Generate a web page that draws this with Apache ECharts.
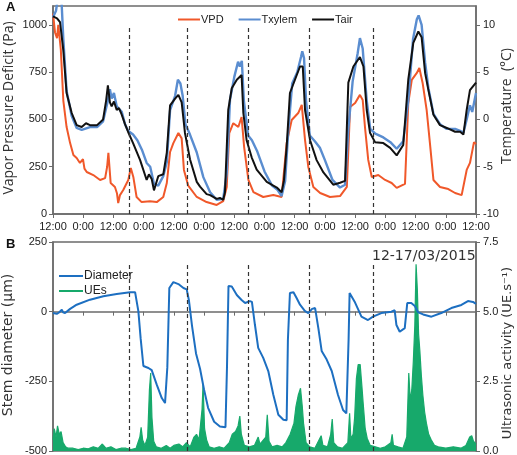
<!DOCTYPE html>
<html>
<head>
<meta charset="utf-8">
<script src="https://cdn.jsdelivr.net/npm/echarts@6/dist/echarts.min.js"></script>
<style>
  html, body { margin: 0; padding: 0; background: #fff; }
  #chart { width: 517px; height: 455px; }
</style>
</head>
<body>
<div id="chart"></div>
<script>
// time axis in hours from the first 12:00 (0..168)
const xLabels = ['12:00', '0:00', '12:00', '0:00', '12:00', '0:00', '12:00', '0:00',
  '12:00', '0:00', '12:00', '0:00', '12:00', '0:00', '12:00'];
const dashedHours = [30.2, 53.2, 77.5, 101.7, 127.1];

// panel A : VPD (Pa)
const vpd = [[0,1060],[0.8,960],[1.6,930],[2.1,1000],[3.1,870],[4.1,600],[5.4,460],[6.8,375],
  [8.1,312],[9.4,296],[10.7,270],[11.9,290],[12.5,240],[13.4,222],[16,206],[18.7,180],[20.7,190],
  [21.5,250],[22,323],[22.9,164],[24.6,143],[25.4,110],[25.9,58],[26.6,100],[27.9,127],[29.9,180],
  [30.9,243],[31.9,196],[33.2,90],[35.2,63],[38.5,68],[41.2,63],[43.8,90],[45.2,164],[46.5,328],
  [47.8,375],[49.8,428],[51.1,400],[52,233],[53.7,150],[57.1,90],[61,63],[65,48],[67.6,68],[69,143],
  [70,428],[71.6,480],[73.6,460],[74.9,513],[75.9,355],[77.6,180],[79.6,116],[83.5,90],[87.5,100],
  [90.8,90],[92.8,375],[94.8,497],[97.4,534],[98.8,577],[100.1,391],[101.4,249],[103.4,143],
  [106.1,111],[110,90],[114,95],[116.7,143],[118,566],[120,587],[121.9,630],[123,603],[123.9,460],
  [125.2,286],[126.6,196],[129.2,206],[131.9,180],[134.5,164],[136.5,138],[139.8,159],[141.1,587],
  [142.5,709],[144.5,746],[145.5,772],[146.8,693],[148.4,550],[149.7,375],[151.1,180],[153.7,143],
  [157,132],[159.7,111],[162.3,100],[163,100],[164.3,233],[165.6,270],[167.2,380],[168,370]];

// panel A : xylem temperature (°C)
const txylem = [[0,10.8],[1.2,11.5],[2,13],[3.3,13],[4.1,8.5],[5.4,3],[7.4,0.4],[9.4,-0.9],
  [11.4,-1.1],[14.7,-0.8],[17.5,-0.8],[19.9,-0.2],[21.8,2],[22.6,3.2],[23.3,2.2],[24.2,2.8],
  [25.3,1.4],[27.3,0.8],[28.6,-0.5],[29.8,-1.2],[31.8,-1.6],[33.5,-2.2],[35.3,-3.2],[37.2,-4.6],
  [38.6,-5],[40.1,-6.8],[41.8,-7],[43.8,-6],[45.2,-4.5],[46.5,1],[48.5,2.5],[49.6,4.2],[50.6,3.8],
  [51.5,2.5],[52.6,-0.5],[54.4,-1.6],[57.1,-3.5],[59.7,-6.1],[62.4,-7.7],[65,-8.5],[67.6,-8.4],
  [69,-5.7],[70.3,2.1],[72,4.5],[73.5,6.1],[74.2,5.6],[75,6.2],[75.8,2],[77.5,-1.7],[79,-2.2],
  [81,-3.3],[84,-5.5],[87,-7],[89,-7.4],[90.8,-8.1],[92.2,-6.5],[93.5,-1],[95,3.8],[97,5],
  [98.5,6.6],[99,7.2],[99.7,6.5],[100.5,2],[102,-1.7],[104,-2.3],[106,-3],[108,-4.3],[111,-6.4],
  [114,-7.2],[116,-6.9],[117.3,-1],[119,4],[121,7],[121.9,8.6],[123,7.5],[124.6,2],[126,-1],
  [128,-1.5],[131.2,-1.9],[134,-2.4],[136.5,-3.1],[139.1,-2.3],[141.1,2],[143,8.5],[144.5,10.6],
  [145.2,11],[146.4,10],[147.8,6],[149.1,3.3],[151.1,0.6],[153.7,-0.5],[156.4,-1],[159.7,-1],
  [161.7,-1.2],[163,-1.4],[164.3,0],[165.6,1.5],[166.5,0.8],[168,2.8]];

// panel A : air temperature (°C)
const tair = [[0,10.9],[1.6,10.7],[2.8,10.3],[4.1,7.3],[5.4,2.8],[7.4,0.7],[9.4,-0.6],[11.4,-0.8],
  [13.1,-0.4],[14.7,-0.6],[17.5,-0.6],[19.9,0],[21.1,2],[21.8,3.6],[22.6,1.8],[23.3,1.4],[24.2,1.9],
  [25.3,1],[26.2,1.2],[27.3,0.5],[28.6,-0.5],[29.8,-1.3],[31.8,-2.5],[34.6,-4.3],[37.2,-6.4],
  [38.1,-5.8],[39.2,-6.3],[40.1,-7.5],[41.8,-6],[43.8,-5.8],[45.2,-3.5],[46.5,1.5],[48.5,2.2],
  [49.8,2.6],[51.1,1.8],[52.4,-1.4],[54.4,-4.2],[57.1,-6.6],[58.4,-7.1],[61,-7.9],[62.4,-8],
  [65,-8.4],[66.3,-8.3],[67.6,-8.5],[68.3,-7.7],[69.6,1],[71,3.3],[73,4.2],[74.9,4.7],[75.6,0.7],
  [76.9,-2.2],[78.9,-4],[80.9,-5.3],[84.9,-6.6],[88.9,-7.2],[90.8,-7.7],[91.7,-6.5],[92.8,-2.9],
  [94.1,2.8],[96.1,4.2],[98.1,5.6],[99.2,5.6],[100.1,1],[102.1,-2.2],[104.7,-4.3],[107.4,-5.6],
  [111.3,-6.9],[114,-6.7],[116,-6.5],[117.3,3.9],[119.3,5.6],[121.9,6.6],[123.3,5.6],[124.6,1],
  [125.9,-1.4],[127.9,-2.4],[131.2,-2.5],[133.9,-3],[136.5,-3.8],[139.1,-2.7],[141.1,4.2],
  [143.1,8.1],[145.1,9.3],[146.4,8.7],[147.8,4.9],[149.1,3.1],[151.1,0.5],[153.7,-0.6],
  [156.4,-0.9],[159.7,-1.3],[161.7,-1.3],[163,-1.6],[164.3,1],[165.6,3.1],[168,3.9]];

// panel B : stem diameter (µm)
const diameter = [[0,-5],[1.5,-8],[2.4,-3],[3.5,7],[4,-2],[4.8,-5],[6.8,10],[9.4,25],[14.7,43],
  [20,55],[25.3,63],[30.6,70],[32.6,70],[33.9,2],[34.8,-95],[35.9,-195],[37.9,-202],[39.2,-210],
  [41.2,-262],[43.2,-310],[44.5,-328],[45.4,-200],[46.2,85],[47.8,106],[49.8,99],[51.8,85],
  [53.1,80],[54,40],[55.2,-50],[56.8,-150],[58.4,-205],[60,-280],[61.6,-345],[64,-395],[66.3,-412],
  [68.5,-415],[69.1,-200],[69.7,92],[71,90],[73,60],[74.9,42],[76.3,31],[78.2,38],[79,35],
  [80.2,-47],[81.5,-130],[83.5,-166],[85.5,-213],[87.5,-298],[89.5,-370],[91.5,-388],[92.8,-390],
  [93.3,-100],[94.1,67],[95.5,70],[96.8,48],[98.1,25],[100,3],[101.4,-5],[102.9,10],[104.1,13],
  [105.4,-60],[106.7,-141],[108.7,-172],[110.7,-213],[113.2,-299],[115.2,-353],[116.5,-365],
  [117.4,-100],[117.8,67],[119.8,36],[122.5,-18],[125.1,-30],[127.1,-18],[130.4,-5],[134.4,0],
  [135.7,5],[136.4,-48],[137.7,-72],[139.7,-59],[140.7,31],[142.3,31],[143.7,20],[145,-2],
  [145.8,-5],[146.2,0],[147,-10],[150.3,-18],[154.2,-5],[158.2,13],[162.2,24],[164.8,38],
  [166.8,35],[168,28]];

// panel B : ultrasonic emissions (UE.s-1)
const ues = [[0,0.4],[0.5,0.8],[1.2,0.5],[1.8,0.9],[2.5,0.6],[3.2,0.7],[4,0.3],[5,0.15],[6,0.1],
  [8,0.1],[10,0.05],[12,0.1],[14,0.08],[16,0.15],[18,0.1],[19.6,0.25],[21,0.1],[23,0.15],[25,0.05],
  [27,0.1],[29,0.1],[31,0.05],[33,0.1],[34.5,0.5],[35,0.85],[35.6,0.4],[36.5,0.2],[37.6,0.5],
  [38.3,2.2],[38.8,2.8],[39.3,1.2],[40,0.35],[41,0.15],[43,0.1],[45,0.2],[46.5,0.1],[48,0.2],
  [50,0.25],[51.5,0.15],[53,0.3],[54.5,0.15],[56,0.5],[57,0.6],[58,0.4],[59.2,1.5],[59.6,2.4],
  [60.2,0.8],[61,0.4],[62,0.15],[64,0.1],[66,0.15],[68,0.1],[70,0.3],[71.2,0.6],[72.5,0.7],
  [73.5,0.9],[74.2,1.25],[74.8,0.6],[76,0.2],[78,0.15],[80,0.2],[81.5,0.5],[82.2,0.25],[84.5,0.5],
  [85.1,1.3],[85.8,0.35],[87,0.15],[89,0.2],[91,0.15],[92.5,0.3],[94.2,0.6],[95.7,1],[96.5,1.6],
  [97.4,2],[98.3,2.25],[99,1.6],[99.5,1],[100.5,0.3],[102,0.15],[104,0.1],[106.5,0.55],[107.2,0.2],
  [109,0.15],[110.3,0.6],[110.9,1.15],[111.5,0.3],[113,0.15],[115,0.1],[117.1,0.3],[117.8,1.35],
  [118.3,0.45],[119.2,0.6],[119.8,1.2],[120.5,2.6],[121.2,3.1],[122,3.1],[122.7,2.3],[123.2,1.7],
  [124,0.8],[124.8,0.45],[126,0.2],[128,0.15],[130,0.1],[132,0.15],[134.2,0.3],[134.7,0.6],
  [135.2,0.2],[137,0.15],[139,0.1],[140.5,0.5],[141.3,2.8],[141.9,1.8],[142.5,2.2],[143.1,3.2],
  [143.7,4.5],[144.2,6.7],[144.7,5.8],[145.2,4.2],[145.7,3.6],[146.3,2.7],[146.9,2],[147.6,1.4],
  [148.3,1],[149.2,0.6],[150.2,0.4],[151.5,0.2],[153,0.15],[156,0.1],[159,0.15],[162,0.1],
  [164,0.2],[165.5,0.5],[166.3,0.55],[167,0.35],[168,0.25]];

const axisColor = '#6b6b6b';
const tickFont = { color: '#222', fontSize: 11, fontFamily: 'Liberation Sans' };

function dashLines(yFrom, yTo) {
  return {
    silent: true,
    symbol: ['none', 'none'],
    label: { show: false },
    lineStyle: { color: '#333', width: 1.2, type: [4, 3] },
    data: dashedHours.map(h => [{ coord: [h, yFrom] }, { coord: [h, yTo] }])
  };
}

function xAxisCfg(grid, showLabels) {
  return {
    type: 'value', gridIndex: grid, min: 0, max: 168, interval: 12,
    axisLine: { lineStyle: { color: axisColor, width: 1.5 } },
    axisTick: { show: true, length: 4, lineStyle: { color: axisColor } },
    axisLabel: {
      show: showLabels, margin: 7, ...tickFont,
      formatter: v => xLabels[Math.round(v / 12)]
    },
    splitLine: { show: false }
  };
}

function yAxisCfg(grid, pos, min, max, interval, labelOpts) {
  return {
    type: 'value', gridIndex: grid, min: min, max: max, interval: interval, position: pos,
    axisLine: { show: true, lineStyle: { color: axisColor, width: 1.5 } },
    axisTick: { show: true, length: 4, lineStyle: { color: axisColor } },
    axisLabel: { margin: pos === 'left' ? 6 : 7, ...tickFont, formatter: v => String(v), ...labelOpts },
    splitLine: { show: false }
  };
}

// rotated axis titles (read bottom to top)
function axisTitle(text, x, y, size, family) {
  return {
    type: 'text', x: x, y: y, rotation: Math.PI / 2,
    style: { text: text, fill: '#333', font: size + 'px "' + family + '"', align: 'center', verticalAlign: 'middle' }
  };
}

const chart = echarts.init(document.getElementById('chart'));

const option = {
  animation: false,
  backgroundColor: '#fff',
  grid: [
    { left: 53, right: 41, top: 6, height: 208, outerBoundsMode: 'none', containLabel: false,
      show: true, borderColor: axisColor, borderWidth: 1.5 },
    { left: 53, right: 41, top: 242, height: 209, outerBoundsMode: 'none', containLabel: false,
      show: true, borderColor: axisColor, borderWidth: 1.5 }
  ],
  title: [
    { text: 'A', left: 1, top: -4, textStyle: { fontSize: 13, fontWeight: 'bold', color: '#111', fontFamily: 'Liberation Sans' } },
    { text: 'B', left: 1, top: 233, textStyle: { fontSize: 13, fontWeight: 'bold', color: '#111', fontFamily: 'Liberation Sans' } },
    { text: '12-17/03/2015', left: 367, top: 244, textStyle: { fontSize: 14, fontWeight: 'normal', color: '#333', fontFamily: 'DejaVu Sans' } }
  ],
  graphic: [
    axisTitle('Vapor Pressure Deficit (Pa)', 9, 108, 14, 'Open Sans'),
    axisTitle('Temperature  (°C)', 507, 106, 14, 'Open Sans'),
    axisTitle('Stem diameter (µm)', 8, 345, 14, 'DejaVu Sans'),
    axisTitle('Ultrasonic activity (UE.s⁻¹)', 508, 353, 13, 'DejaVu Sans')
  ],
  legend: [
    {
      data: ['VPD', 'Txylem', 'Tair'],
      left: 173, top: 9, itemGap: 15,
      icon: 'rect', itemWidth: 22, itemHeight: 2,
      textStyle: { fontSize: 11, color: '#222', fontFamily: 'Liberation Sans', padding: [0, 0, 0, -4] }
    },
    {
      data: ['Diameter', 'UEs'],
      left: 54, top: 265, orient: 'vertical', itemGap: 3,
      icon: 'rect', itemWidth: 24, itemHeight: 2,
      textStyle: { fontSize: 12, color: '#222', fontFamily: 'Liberation Sans', padding: [0, 0, 0, -4] }
    }
  ],
  xAxis: [xAxisCfg(0, true), xAxisCfg(1, false)],
  yAxis: [
    yAxisCfg(0, 'left', 0, 1100, 250, { showMaxLabel: false }),
    yAxisCfg(0, 'right', -10, 12, 5, { showMaxLabel: false }),
    yAxisCfg(1, 'left', -500, 250, 250, {}),
    yAxisCfg(1, 'right', 0, 7.5, 2.5, { formatter: v => v.toFixed(1) })
  ],
  series: [
    {
      name: 'VPD', type: 'line', xAxisIndex: 0, yAxisIndex: 0, data: vpd,
      symbol: 'none', lineStyle: { color: '#f0582a', width: 2 }, itemStyle: { color: '#f0582a' },
      markLine: dashLines(0, 1000)
    },
    {
      name: 'Txylem', type: 'line', xAxisIndex: 0, yAxisIndex: 1, data: txylem,
      symbol: 'none', lineStyle: { color: '#5a8dd0', width: 2.4 }, itemStyle: { color: '#5a8dd0' }
    },
    {
      name: 'Tair', type: 'line', xAxisIndex: 0, yAxisIndex: 1, data: tair,
      symbol: 'none', lineStyle: { color: '#111', width: 2 }, itemStyle: { color: '#111' }
    },
    {
      name: 'UEs', type: 'line', xAxisIndex: 1, yAxisIndex: 3, data: ues,
      symbol: 'none', lineStyle: { color: '#17a96b', width: 1.2 }, itemStyle: { color: '#17a96b' },
      areaStyle: { color: '#17a96b', opacity: 1 }
    },
    {
      name: 'Diameter', type: 'line', xAxisIndex: 1, yAxisIndex: 2, data: diameter,
      symbol: 'none', lineStyle: { color: '#1d6fc1', width: 2 }, itemStyle: { color: '#1d6fc1' },
      markLine: dashLines(-500, 170)
    }
  ]
};

chart.setOption(option);
</script>
</body>
</html>
